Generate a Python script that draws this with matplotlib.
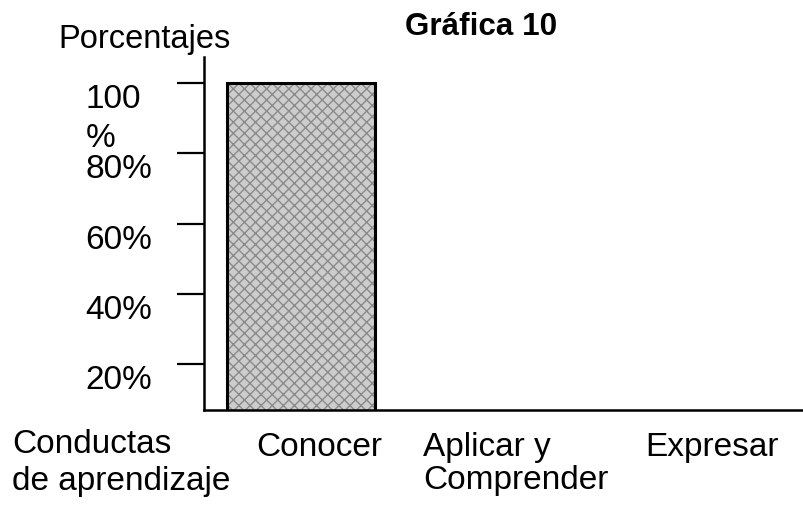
import numpy as np
import matplotlib
matplotlib.use("Agg")
import matplotlib.pyplot as plt

plt.rcParams['font.family'] = ['Liberation Sans', 'DejaVu Sans']

# data
categories = ['Conocer', 'Aplicar y\nComprender', 'Expresar']
values = [100, 0, 0]
ytick_vals = [20, 40, 60, 80, 100]
ytick_labels = ['20%', '40%', '60%', '80%', '100\n%']

fig = plt.figure(figsize=(8.04, 5.06), dpi=100)
ax = fig.add_axes([0.2537, 0.1877, 0.7463, 0.6976])

x = np.arange(len(categories))
# shaded fill, then a black outline on top
ax.bar(x - 0.092, values, width=0.753, bottom=0, color='#cdcdcd',
       edgecolor='#8a8a8a', hatch='xxx', linewidth=0, zorder=2)
ax.bar(x - 0.092, values, width=0.753, bottom=0, fill=False,
       edgecolor='black', linewidth=2.2, zorder=3)

ax.set_xlim(-0.585, 2.468)
ax.set_ylim(6.9, 107.4)

for side in ['top', 'right']:
    ax.spines[side].set_visible(False)
for side in ['left', 'bottom']:
    ax.spines[side].set_linewidth(1.8)
    ax.spines[side].set_zorder(4)

ax.set_yticks(ytick_vals)
ax.set_yticklabels(ytick_labels, fontsize=24)
ax.tick_params(axis='y', direction='out', length=19.4, width=1.6, pad=66)
for lab in ax.get_yticklabels():
    lab.set_horizontalalignment('left')
    lab.set_verticalalignment('top')
    lab.set_multialignment('left')
    lab.set_linespacing(1.35)

ax.set_xticks(x)
ax.set_xticklabels(categories, fontsize=24)
ax.tick_params(axis='x', length=0, pad=15)
for lab in ax.get_xticklabels():
    lab.set_multialignment('left')
    lab.set_linespacing(1.1)

fig.text(405 / 804, 1 - 35 / 506, 'Gráfica 10', fontsize=22.6, fontweight='bold',
         ha='left', va='baseline')
fig.text(58 / 804, 1 - 48 / 506, 'Porcentajes', fontsize=23.5,
         ha='left', va='baseline')
fig.text(12 / 804, 1 - 453 / 506, 'Conductas', fontsize=24,
         ha='left', va='baseline')
fig.text(12 / 804, 1 - 490 / 506, 'de aprendizaje', fontsize=24,
         ha='left', va='baseline')

fig.savefig('out.png', dpi=100, facecolor='white')
